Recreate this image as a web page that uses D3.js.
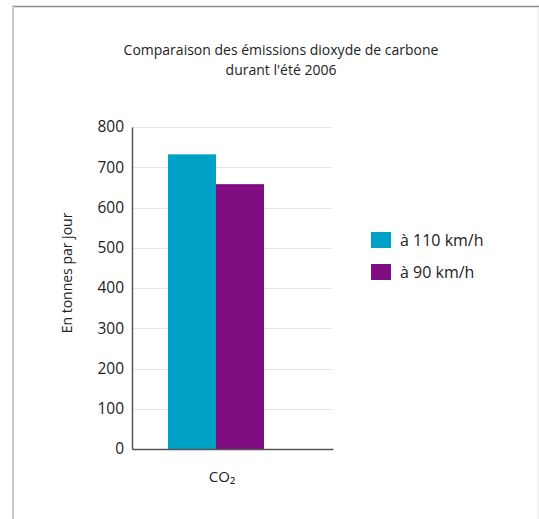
<!DOCTYPE html>
<html>
<head>
<meta charset="utf-8">
<script src="https://cdn.jsdelivr.net/npm/d3@7"></script>
<style>
  html, body { margin: 0; padding: 0; background: #fff; }
  svg { display: block; }
  text { font-family: "Open Sans", "Noto Sans", sans-serif; fill: #222; }
</style>
</head>
<body>
<svg id="chart" width="539" height="519"></svg>
<script>
// Data
const categories = ["CO₂"];
const seriesNames = ["à 110 km/h", "à 90 km/h"];
const seriesColors = ["#00a1c7", "#800d81"];
const seriesValues = [[732], [658]];
const yTicks = [0, 100, 200, 300, 400, 500, 600, 700, 800];
const titleLines = ["Comparaison des émissions dioxyde de carbone", "durant l'été 2006"];
const yLabel = "En tonnes par jour";

(function () {
const svg = d3.select("#chart");
const font = "'Open Sans', 'Noto Sans', sans-serif";

// Frame
svg.append("rect").attr("x", 0).attr("y", 0).attr("width", 539).attr("height", 519).attr("fill", "#fff");
svg.append("line").attr("x1", 12).attr("x2", 539).attr("y1", 6.5).attr("y2", 6.5)
  .attr("stroke", "#8a8a8a").attr("stroke-width", 1.5);
svg.append("line").attr("x1", 13).attr("x2", 13).attr("y1", 6).attr("y2", 519)
  .attr("stroke", "#c8c8c8").attr("stroke-width", 2);
svg.append("line").attr("x1", 538).attr("x2", 538).attr("y1", 7).attr("y2", 519)
  .attr("stroke", "#e4e4e4").attr("stroke-width", 1);

// Plot area
const mLeft = 132, mRight = 333, mTop = 127, mBottom = 449;

const y = d3.scaleLinear().domain([0, 800]).range([mBottom, mTop]);
const x0 = d3.scaleBand().domain(categories).range([mLeft, mRight])
  .paddingInner(0).paddingOuter(0.547).align(0.343);
const x1 = d3.scaleBand().domain(seriesNames).range([0, x0.bandwidth()]).padding(0);

// Gridlines
svg.append("g").selectAll("line").data(yTicks.filter(d => d > 0)).join("line")
  .attr("x1", mLeft).attr("x2", mRight - 1)
  .attr("y1", d => Math.round(y(d)) + 0.5).attr("y2", d => Math.round(y(d)) + 0.5)
  .attr("stroke", "#e6e6e6").attr("stroke-width", 1);

// Bars
const groups = svg.append("g").selectAll("g").data(categories).join("g")
  .attr("transform", d => `translate(${x0(d)},0)`);
groups.selectAll("rect")
  .data((c, ci) => seriesNames.map((s, si) => ({ s, v: seriesValues[si][ci], color: seriesColors[si] })))
  .join("rect")
  .attr("x", d => x1(d.s))
  .attr("width", x1.bandwidth())
  .attr("y", d => y(d.v))
  .attr("height", d => y(0) - y(d.v))
  .attr("fill", d => d.color);

// Y axis
const yAxis = d3.axisLeft(y).tickValues(yTicks).tickSize(0).tickPadding(8);
const gy = svg.append("g").attr("transform", `translate(${mLeft},0)`).call(yAxis);
gy.select(".domain").attr("stroke", "#555").attr("stroke-width", 1.5);
gy.selectAll("text").style("font-size", "15.5px").attr("fill", "#222").style("font-family", font);

// X axis
const xAxis = d3.axisBottom(x0).tickSize(0).tickPadding(22);
const gx = svg.append("g").attr("transform", `translate(0,${mBottom})`).call(xAxis);
gx.select(".domain").attr("stroke", "#555").attr("stroke-width", 1.5);
gx.selectAll("text").style("font-size", "15px").attr("fill", "#222").style("font-family", font)
  .attr("dx", 6);

// Title
svg.append("text").attr("text-anchor", "middle").style("font-size", "14px")
  .selectAll("tspan").data(titleLines).join("tspan")
  .attr("x", 281).attr("y", (d, i) => 55 + i * 20).text(d => d);

// Y label
svg.append("text")
  .attr("transform", `translate(72,273) rotate(-90)`)
  .attr("text-anchor", "middle").style("font-size", "14px").text(yLabel);

// Legend
const legend = svg.append("g").attr("transform", "translate(371,232)");
const li = legend.selectAll("g").data(seriesNames).join("g")
  .attr("transform", (d, i) => `translate(0,${i * 32})`);
li.append("rect").attr("width", 20).attr("height", 16).attr("fill", (d, i) => seriesColors[i]);
li.append("text").attr("x", 29).attr("y", 14).style("font-size", "16px").text(d => d);
})();
</script>
</body>
</html>
